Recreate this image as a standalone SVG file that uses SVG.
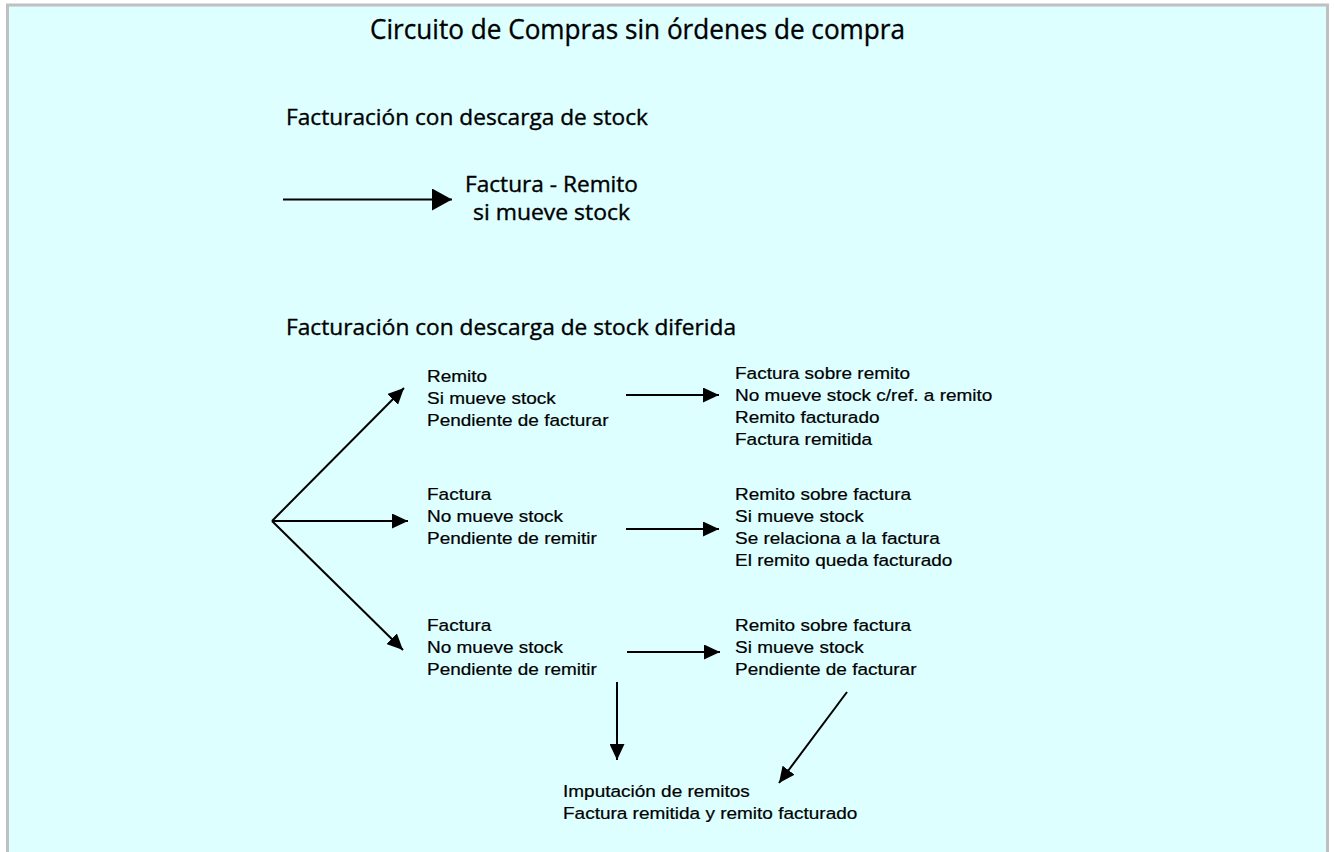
<svg xmlns="http://www.w3.org/2000/svg" width="1334" height="852" viewBox="0 0 1334 852">
<style>
.head{font-family:"Open Sans","Noto Sans","Liberation Sans",sans-serif;fill:#000;stroke:#000;stroke-width:0.35px}
.body{font-family:"Liberation Sans",Arial,sans-serif;font-size:16.3px;fill:#000;stroke:#000;stroke-width:0.2px}
.ln{stroke:#000;stroke-width:2;fill:none}
</style>
<defs>
<marker id="ah" markerUnits="userSpaceOnUse" markerWidth="16" markerHeight="15" refX="16" refY="7.5" orient="auto">
<path d="M0,0 L16,7.5 L0,15 z" fill="#000"/>
</marker>
<marker id="ahBig" markerUnits="userSpaceOnUse" markerWidth="20" markerHeight="22" refX="20" refY="11" orient="auto">
<path d="M0,0 L20,11 L0,22 z" fill="#000"/>
</marker>
</defs>
<rect x="0" y="0" width="1334" height="852" fill="#fff"/>
<rect x="7.5" y="5" width="1320" height="870" fill="#ddffff" stroke="#c0c0c0" stroke-width="3"/>

<g id="title">
<text class="head" x="370" y="39" font-size="27" textLength="535" lengthAdjust="spacingAndGlyphs">Circuito de Compras sin órdenes de compra</text>
</g>
<g id="heading1">
<text class="head" x="286" y="125" font-size="22" textLength="362" lengthAdjust="spacingAndGlyphs">Facturación con descarga de stock</text>
</g>
<g id="node-factura-remito">
<text class="head" x="551.5" y="192" font-size="21" text-anchor="middle" textLength="173" lengthAdjust="spacingAndGlyphs">Factura - Remito</text>
<text class="head" x="551.5" y="220" font-size="21" text-anchor="middle" textLength="157" lengthAdjust="spacingAndGlyphs">si mueve stock</text>
</g>
<g id="heading2">
<text class="head" x="286" y="335" font-size="22" textLength="450" lengthAdjust="spacingAndGlyphs">Facturación con descarga de stock diferida</text>
</g>

<g id="node-remito" transform="translate(427,0) scale(1.165,1)">
<text class="body" x="0" y="382">Remito</text>
<text class="body" x="0" y="404">Si mueve stock</text>
<text class="body" x="0" y="426">Pendiente de facturar</text>
</g>
<g id="node-factura-sobre-remito" transform="translate(735,0) scale(1.165,1)">
<text class="body" x="0" y="379">Factura sobre remito</text>
<text class="body" x="0" y="401">No mueve stock c/ref. a remito</text>
<text class="body" x="0" y="423">Remito facturado</text>
<text class="body" x="0" y="445">Factura remitida</text>
</g>
<g id="node-factura-1" transform="translate(427,0) scale(1.165,1)">
<text class="body" x="0" y="500">Factura</text>
<text class="body" x="0" y="522">No mueve stock</text>
<text class="body" x="0" y="544">Pendiente de remitir</text>
</g>
<g id="node-remito-sobre-factura-1" transform="translate(735,0) scale(1.165,1)">
<text class="body" x="0" y="500">Remito sobre factura</text>
<text class="body" x="0" y="522">Si mueve stock</text>
<text class="body" x="0" y="544">Se relaciona a la factura</text>
<text class="body" x="0" y="566">El remito queda facturado</text>
</g>
<g id="node-factura-2" transform="translate(427,0) scale(1.165,1)">
<text class="body" x="0" y="631">Factura</text>
<text class="body" x="0" y="653">No mueve stock</text>
<text class="body" x="0" y="675">Pendiente de remitir</text>
</g>
<g id="node-remito-sobre-factura-2" transform="translate(735,0) scale(1.165,1)">
<text class="body" x="0" y="631">Remito sobre factura</text>
<text class="body" x="0" y="653">Si mueve stock</text>
<text class="body" x="0" y="675">Pendiente de facturar</text>
</g>
<g id="node-imputacion" transform="translate(563,0) scale(1.165,1)">
<text class="body" x="0" y="797">Imputación de remitos</text>
<text class="body" x="0" y="819">Factura remitida y remito facturado</text>
</g>

<g id="connectors">
<line class="ln" x1="283" y1="199.5" x2="452" y2="199.5" marker-end="url(#ahBig)"/>
<line class="ln" x1="272" y1="521" x2="404" y2="388" marker-end="url(#ah)"/>
<line class="ln" x1="272" y1="521" x2="408" y2="521" marker-end="url(#ah)"/>
<line class="ln" x1="272" y1="521" x2="403" y2="650" marker-end="url(#ah)"/>
<line class="ln" x1="626" y1="395" x2="719" y2="395" marker-end="url(#ah)"/>
<line class="ln" x1="626" y1="529" x2="719" y2="529" marker-end="url(#ah)"/>
<line class="ln" x1="627" y1="652" x2="720" y2="652" marker-end="url(#ah)"/>
<line class="ln" x1="617" y1="682" x2="617" y2="760" marker-end="url(#ah)"/>
<line class="ln" x1="847" y1="692" x2="779" y2="783" marker-end="url(#ah)"/>
</g>
</svg>
